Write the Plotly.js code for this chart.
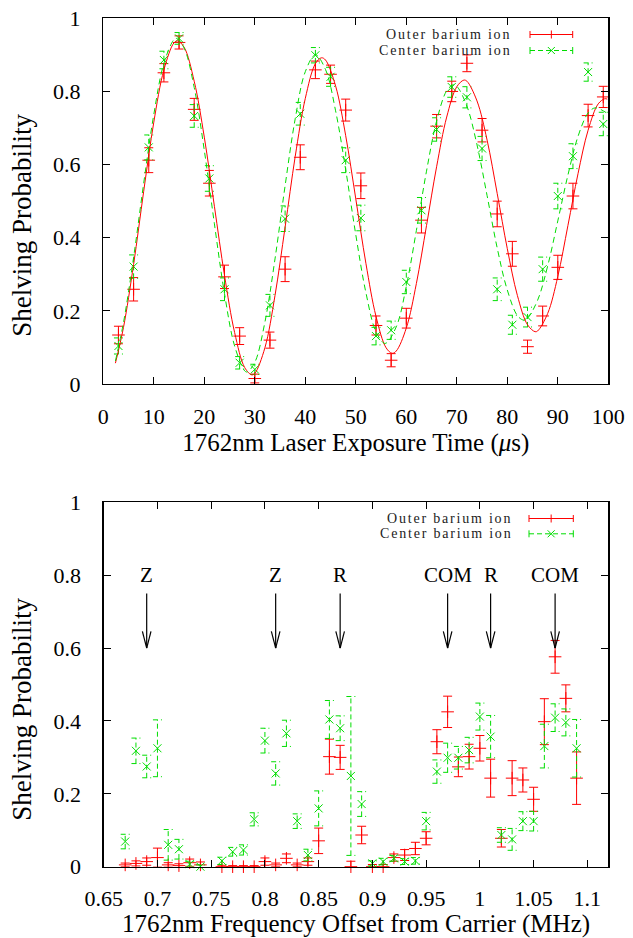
<!DOCTYPE html>
<html>
<head>
<meta charset="utf-8">
<script src="https://cdn.plot.ly/plotly-3.0.1.min.js"></script>
<style>html,body{margin:0;padding:0;background:#fff;}#chart{width:633px;height:938px;}</style>
</head>
<body>
<div id="chart"></div>
<script>
// ---------- Top panel: Rabi flopping vs exposure time ----------
const exposureTime = [3,6,9,12,15,18,21,24,27,30,33,36,39,42,45,48,51,54,57,60,63,66,69,72,75,78,81,84,87,90,93,96,99];
const outerTop = [0.134,0.259,0.612,0.851,0.934,0.751,0.549,0.293,0.131,0.015,0.120,0.314,0.620,0.859,0.847,0.749,0.542,0.160,0.065,0.180,0.448,0.705,0.800,0.877,0.694,0.465,0.356,0.102,0.186,0.319,0.514,0.734,0.785];
const outerTopErr = [0.024,0.032,0.034,0.025,0.018,0.030,0.035,0.032,0.023,0.012,0.022,0.034,0.034,0.024,0.025,0.030,0.035,0.026,0.018,0.027,0.035,0.032,0.028,0.023,0.032,0.035,0.034,0.018,0.027,0.033,0.035,0.031,0.029];
const centerTop = [0.104,0.321,0.647,0.886,0.945,0.733,0.562,0.259,0.058,0.040,0.215,0.452,0.739,0.899,0.840,0.612,0.454,0.131,0.147,0.279,0.475,0.696,0.812,0.784,0.644,0.259,0.162,0.183,0.314,0.514,0.623,0.853,0.711];
const centerTopErr = [0.022,0.032,0.034,0.024,0.016,0.031,0.035,0.031,0.017,0.014,0.030,0.035,0.031,0.021,0.026,0.034,0.035,0.024,0.025,0.032,0.035,0.032,0.028,0.029,0.033,0.031,0.026,0.027,0.033,0.035,0.034,0.025,0.032];
// fitted curves
const outerFitT = [2.4,4,6,8,10,12,14,14.7,16,18,20,22,24,26,28,29.4,30,32,34,36,38,40,42,43.2,44,46,48,50,52,54,56,57.2,58,60,62,64,66,68,70,71.4,72,74,76,78,80,82,84,85.5,86,88,90,92,94,96,98,99.3,99.8];
const outerFitP = [0.057,0.155,0.327,0.527,0.716,0.859,0.933,0.938,0.921,0.828,0.675,0.486,0.297,0.141,0.045,0.025,0.029,0.099,0.242,0.429,0.622,0.781,0.876,0.892,0.886,0.815,0.679,0.506,0.330,0.185,0.099,0.084,0.090,0.153,0.275,0.433,0.594,0.730,0.813,0.831,0.828,0.774,0.667,0.521,0.370,0.242,0.162,0.143,0.145,0.193,0.294,0.433,0.575,0.694,0.766,0.780,0.779];
const centerFitT = [2.4,4,6,8,10,12,14,14.5,16,18,20,22,24,26,28,28.5,30,32,34,36,38,40,42,44,46,48,50,52,54,55.8,58,60,62,64,66,68,69.3,70,72,74,76,78,80,82,83.2,84,86,88,90,92,94,96,97.4,99.8];
const centerFitP = [0.063,0.168,0.346,0.549,0.737,0.877,0.942,0.945,0.919,0.811,0.639,0.438,0.247,0.104,0.036,0.033,0.059,0.169,0.342,0.542,0.725,0.854,0.900,0.860,0.747,0.586,0.408,0.250,0.143,0.111,0.156,0.267,0.420,0.582,0.719,0.802,0.818,0.814,0.760,0.654,0.515,0.372,0.257,0.187,0.175,0.180,0.229,0.323,0.446,0.571,0.677,0.741,0.755,0.740];

// ---------- Bottom panel: spectrum vs frequency offset ----------
const freqOffset = [0.67,0.68,0.69,0.70,0.71,0.72,0.73,0.74,0.76,0.77,0.78,0.79,0.80,0.81,0.82,0.83,0.84,0.85,0.86,0.87,0.88,0.89,0.90,0.91,0.92,0.93,0.94,0.95,0.96,0.97,0.98,0.99,1.00,1.01,1.02,1.03,1.04,1.05,1.06,1.07,1.08,1.09];
const outerBot = [0.005,0.009,0.014,0.025,0.005,0.003,0.011,0.005,0.0,0.0,0.0,0.0,0.014,0.005,0.023,0.005,0.014,0.071,0.302,0.300,0.0,0.087,0.0,0.0,0.025,0.032,0.050,0.078,0.343,0.425,0.274,0.302,0.325,0.243,0.078,0.243,0.238,0.185,0.398,0.576,0.462,0.243];
const outerBotErr = [0.005,0.007,0.010,0.026,0.006,0.005,0.010,0.008,0.004,0.003,0.003,0.003,0.010,0.005,0.012,0.005,0.010,0.035,0.048,0.033,0.015,0.024,0.006,0.006,0.010,0.015,0.017,0.018,0.033,0.043,0.027,0.034,0.035,0.052,0.024,0.048,0.033,0.033,0.063,0.045,0.037,0.072];
const centerBot = [0.069,0.318,0.275,0.325,0.060,0.048,0.007,0.0,0.016,0.041,0.046,0.130,0.346,0.256,0.366,0.125,0.032,0.160,0.404,0.380,0.249,0.172,0.009,0.014,0.023,0.014,0.016,0.125,0.261,0.299,0.299,0.320,0.412,0.357,0.087,0.075,0.125,0.125,0.331,0.409,0.396,0.325];
const centerBotErr = [0.020,0.035,0.031,0.078,0.042,0.027,0.008,0.005,0.010,0.012,0.014,0.018,0.034,0.032,0.036,0.020,0.016,0.048,0.052,0.034,0.218,0.034,0.007,0.009,0.008,0.008,0.009,0.024,0.032,0.040,0.031,0.035,0.037,0.058,0.020,0.030,0.026,0.027,0.060,0.038,0.037,0.079];
// transition markers
const markerFreq = [0.69,0.81,0.87,0.97,1.01,1.07];
const markerLabel = ['Z','Z','R','COM','R','COM'];
const arrowTail = 0.75, arrowTip = 0.6, labelLevel = 0.8;

// tick labels
const topXTicks = [0,10,20,30,40,50,60,70,80,90,100];
const topXLabels = ['0','10','20','30','40','50','60','70','80','90','100'];
const probTicks = [0,0.2,0.4,0.6,0.8,1];
const probLabels = ['0','0.2','0.4','0.6','0.8','1'];
const botXTicks = [0.65,0.7,0.75,0.8,0.85,0.9,0.95,1,1.05,1.1];
const botXLabels = ['0.65','0.7','0.75','0.8','0.85','0.9','0.95','1','1.05','1.1'];

const seriesNames = ['Outer barium ion','Center barium ion'];

// ---------- styling ----------
const RED = '#ff0000', GREEN = '#00dd00';
const FONT = 'Liberation Serif';
const W = 633, H = 938;
const topX = [103.3, 608.3], topY = [18.3, 384];
const botX = [103.7, 608.3], botY = [502.3, 866.7];
const px = v => v / W, py = v => 1 - v / H;
const topRange = [0, 100], botRange = [0.65, 1.1195];
const capPx = 4.5;

function dashedBars(xs, ys, es, xa, ya, pxPerUnit) {
  const c = capPx / pxPerUnit, X = [], Y = [];
  xs.forEach((x, i) => {
    const lo = ys[i] - es[i], hi = ys[i] + es[i];
    X.push(x, x, null, x - c, x + c, null, x - c, x + c, null);
    Y.push(lo, hi, null, lo, lo, null, hi, hi, null);
  });
  return {x: X, y: Y, xaxis: xa, yaxis: ya, mode: 'lines', showlegend: false, hoverinfo: 'skip',
          line: {color: GREEN, width: 1, dash: '5px,3px'}, cliponaxis: false};
}

function panel(xs, yR, eR, yG, eG, xa, ya, pxPerUnit, fit) {
  const tr = [];
  tr.push({x: xs, y: yR, xaxis: xa, yaxis: ya, mode: 'markers', name: seriesNames[0], showlegend: false, cliponaxis: false,
    marker: {symbol: 'cross-thin', size: 9, color: RED, line: {color: RED, width: 1}},
    error_y: {type: 'data', array: eR, visible: true, color: RED, thickness: 1, width: capPx}});
  tr.push(dashedBars(xs, yG, eG, xa, ya, pxPerUnit));
  tr.push({x: xs, y: yG, xaxis: xa, yaxis: ya, mode: 'markers', name: seriesNames[1], showlegend: false, cliponaxis: false,
    marker: {symbol: 'x-thin', size: 8, color: GREEN, line: {color: GREEN, width: 1}}});
  if (fit) {
    tr.push({x: fit[0], y: fit[1], xaxis: xa, yaxis: ya, mode: 'lines', showlegend: false, hoverinfo: 'skip',
      line: {color: RED, width: 1, shape: 'spline', smoothing: 1}});
    tr.push({x: fit[2], y: fit[3], xaxis: xa, yaxis: ya, mode: 'lines', showlegend: false, hoverinfo: 'skip',
      line: {color: GREEN, width: 1, dash: '6px,4px', shape: 'spline', smoothing: 1}});
  }
  return tr;
}

const topPPU = (topX[1] - topX[0]) / (topRange[1] - topRange[0]);
const botPPU = (botX[1] - botX[0]) / (botRange[1] - botRange[0]);

const data = [].concat(
  panel(exposureTime, outerTop, outerTopErr, centerTop, centerTopErr, 'x', 'y', topPPU,
        [outerFitT, outerFitP, centerFitT, centerFitP]),
  panel(freqOffset, outerBot, outerBotErr, centerBot, centerBotErr, 'x2', 'y2', botPPU, null)
);

function axis(extra) {
  return Object.assign({showline: true, linecolor: '#000', linewidth: 1.3, mirror: 'ticks', ticks: 'inside',
    ticklen: 7, tickwidth: 1, tickcolor: '#000', showgrid: false, zeroline: false, fixedrange: true,
    tickmode: 'array', tickfont: {family: FONT, size: 22, color: '#000'}}, extra);
}
const titleFont = {family: FONT, size: 25, color: '#000'};

// legend drawn as shapes + text
const shapes = [], annotations = [];
function legendBlock(textRight, r1, r2, x0, x1) {
  const mid = (x0 + x1) / 2;
  const L = (a, b, c, d, color, dash) => shapes.push({type: 'line', xref: 'paper', yref: 'paper',
    x0: px(a), y0: py(b), x1: px(c), y1: py(d), line: {color: color, width: 1, dash: dash || 'solid'}});
  L(x0, r1, x1, r1, RED); L(x0, r1 - 3.5, x0, r1 + 3.5, RED); L(x1, r1 - 3.5, x1, r1 + 3.5, RED);
  L(mid, r1 - 4, mid, r1 + 4, RED);
  L(x0, r2, x1, r2, GREEN, '5px,3px'); L(x0, r2 - 3.5, x0, r2 + 3.5, GREEN); L(x1, r2 - 3.5, x1, r2 + 3.5, GREEN);
  L(mid - 3.5, r2 - 3.5, mid + 3.5, r2 + 3.5, GREEN); L(mid - 3.5, r2 + 3.5, mid + 3.5, r2 - 3.5, GREEN);
  [r1, r2].forEach((r, i) => annotations.push({xref: 'paper', yref: 'paper', x: px(textRight), y: py(r),
    xanchor: 'right', yanchor: 'middle', showarrow: false, borderpad: 0,
    text: '<span style="letter-spacing:1.8px">' + seriesNames[i] + '</span>',
    font: {family: FONT, size: 14, color: '#222'}}));
}
legendBlock(512, 34.5, 50.5, 530, 572.7);
legendBlock(513, 518.5, 533.8, 529, 573.3);

// transition arrows
const headDx = 4.3 / botPPU, headDy = 16.7 / ((botY[1] - botY[0]));
markerFreq.forEach((f, i) => {
  const A = (x0, y0, x1, y1) => shapes.push({type: 'line', xref: 'x2', yref: 'y2', x0: x0, y0: y0, x1: x1, y1: y1,
    line: {color: '#000', width: 1.2}});
  A(f, arrowTail, f, arrowTip);
  A(f, arrowTip, f - headDx, arrowTip + headDy);
  A(f, arrowTip, f + headDx, arrowTip + headDy);
  annotations.push({xref: 'x2', yref: 'y2', x: f, y: labelLevel, text: markerLabel[i], showarrow: false,
    xanchor: 'center', yanchor: 'middle', font: {family: FONT, size: 21, color: '#000'}});
});

// y-axis titles
[225, 709].forEach(c => annotations.push({xref: 'paper', yref: 'paper', x: px(21.7), y: py(c),
  xanchor: 'center', yanchor: 'middle', textangle: -90, showarrow: false, text: 'Shelving Probability',
  font: {family: FONT, size: 27, color: '#000'}}));

const layout = {
  width: W, height: H, margin: {l: 0, r: 0, t: 0, b: 0}, paper_bgcolor: '#fff', plot_bgcolor: '#fff',
  font: {family: FONT, color: '#000'},
  showlegend: false,
  xaxis: axis({domain: [px(topX[0]), px(topX[1])], range: topRange, anchor: 'y', tickvals: topXTicks, ticktext: topXLabels,
    ticklabelstandoff: 12, title: {text: '1762nm Laser Exposure Time (<i>μ</i>s)', font: titleFont, standoff: 4}}),
  yaxis: axis({domain: [py(topY[1]), py(topY[0])], range: [0, 1], anchor: 'x', tickvals: probTicks, ticktext: probLabels,
    ticklabelstandoff: 17}),
  xaxis2: axis({domain: [px(botX[0]), px(botX[1])], range: botRange, anchor: 'y2', tickvals: botXTicks, ticktext: botXLabels,
    ticklabelstandoff: 12, title: {text: '1762nm Frequency Offset from Carrier (MHz)', font: titleFont, standoff: 6}}),
  yaxis2: axis({domain: [py(botY[1]), py(botY[0])], range: [0, 1], anchor: 'x2', tickvals: probTicks, ticktext: probLabels,
    ticklabelstandoff: 17}),
  shapes: shapes, annotations: annotations
};

Plotly.newPlot('chart', data, layout, {staticPlot: true, displayModeBar: false});
</script>
</body>
</html>
